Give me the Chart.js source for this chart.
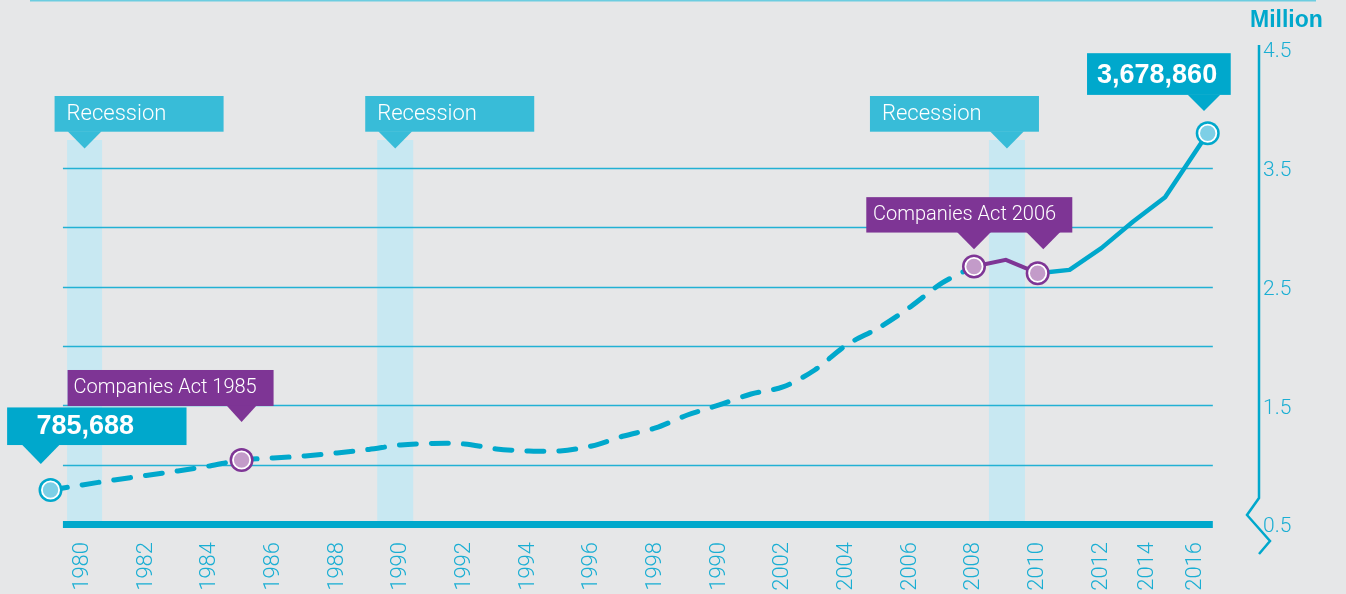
<!DOCTYPE html>
<html>
<head>
<meta charset="utf-8">
<script src="https://cdn.jsdelivr.net/npm/chart.js@4/dist/chart.umd.min.js"></script>
<style>
  html, body { margin: 0; padding: 0; background: #e6e7e8; }
  canvas { display: block; }
</style>
</head>
<body>
<canvas id="companiesChart" width="1346" height="594"></canvas>
<script>
// companies on the register, millions
const trendYears = [1979, 1980, 1981, 1982, 1983, 1984, 1985, 1986, 1987, 1988, 1989, 1990, 1991, 1992, 1993, 1994, 1995, 1996, 1997, 1998, 1999, 2000, 2001, 2002, 2003, 2004, 2005, 2006, 2007, 2008];
const trendValues = [0.786, 0.829, 0.871, 0.909, 0.947, 0.989, 1.039, 1.056, 1.073, 1.098, 1.128, 1.166, 1.178, 1.174, 1.132, 1.115, 1.115, 1.157, 1.241, 1.309, 1.418, 1.503, 1.595, 1.654, 1.797, 2.008, 2.151, 2.328, 2.530, 2.668];
const actYears = [2008, 2009, 2010];
const actValues = [2.668, 2.724, 2.612];
const recentYears = [2010, 2011, 2012, 2013, 2014, 2015.34];
const recentValues = [2.612, 2.640, 2.823, 3.047, 3.252, 3.791];

const recessionStart = [1979.52, 1989.26, 2008.47];
const recessionEnd = [1980.62, 1990.39, 2009.6];

// where the year labels sit in the picture (the last two are squeezed)
const yearTicks = [1980, 1982, 1984, 1986, 1988, 1990, 1992, 1994, 1996, 1998, 2000, 2002, 2004, 2006, 2008, 2010, 2012, 2013.44, 2014.95];
const yearLabels = ['1980', '1982', '1984', '1986', '1988', '1990', '1992', '1994', '1996', '1998', '1990', '2002', '2004', '2006', '2008', '2010', '2012', '2014', '2016'];
const valueTicks = [0.5, 1.5, 2.5, 3.5, 4.5];
const valueLabels = ['0.5', '1.5', '2.5', '3.5', '4.5'];
const gridValues = [1, 1.5, 2, 2.5, 3, 3.5];

const firstLabel = '785,688';
const lastLabel = '3,678,860';
const act1985 = 'Companies Act 1985';
const act2006 = 'Companies Act 2006';
const recessionText = 'Recession';

const CYAN = '#00a8cc';
const CYAN_BOX = '#38bcd8';
const BAND = '#c8e8f2';
const GRID = '#22b1d4';
const PURPLE = '#7e3595';
const FONT = 'Roboto, "Open Sans", sans-serif';
const BOLD = 'bold 27px "Liberation Sans", Arial, sans-serif';

// where each recession flag sits relative to its band centre
const flagShift = [-30, -30, -137];

const pts = (xs, ys) => xs.map((x, i) => ({ x: x, y: ys[i] }));
const at = (xs, ys, i) => ({ x: xs[i], y: ys[i] });

const cyanMarks = [
    at(trendYears, trendValues, 0),
    at(recentYears, recentValues, recentYears.length - 1)
];
const purpleMarks = [
    at(trendYears, trendValues, trendYears.indexOf(1985)),
    at(actYears, actValues, 0),
    at(actYears, actValues, actYears.length - 1)
];

function callout(ctx, x0, y0, x1, y1, tips, tipY, half, color) {
    ctx.fillStyle = color;
    ctx.fillRect(x0, y0, x1 - x0, y1 - y0);
    tips.forEach(tx => {
        ctx.beginPath();
        ctx.moveTo(tx - half, y1 - 0.5);
        ctx.lineTo(tx + half, y1 - 0.5);
        ctx.lineTo(tx, tipY);
        ctx.closePath();
        ctx.fill();
    });
}

function text(ctx, str, x, y, font) {
    ctx.fillStyle = '#ffffff';
    ctx.font = font;
    ctx.textAlign = 'left';
    ctx.textBaseline = 'alphabetic';
    ctx.fillText(str, x, y);
}

const decor = {
    id: 'decor',
    beforeDraw(chart) {
        const ctx = chart.ctx;
        ctx.save();
        ctx.fillStyle = '#e6e7e8';
        ctx.fillRect(0, 0, chart.width, chart.height);
        ctx.restore();
    },
    beforeDatasetsDraw(chart) {
        const { ctx, chartArea, scales: { x, y } } = chart;
        const bottom = chartArea.bottom;
        ctx.save();

        // recession bands
        ctx.fillStyle = BAND;
        recessionStart.forEach((s, i) => {
            const a = x.getPixelForValue(s);
            const b = x.getPixelForValue(recessionEnd[i]);
            ctx.fillRect(a, 140, b - a, bottom - 140);
        });

        // grid lines, shorter than the chart area
        const gx0 = x.getPixelForValue(1979.39);
        const gx1 = x.getPixelForValue(2015.5);
        ctx.strokeStyle = GRID;
        ctx.lineWidth = 1.3;
        gridValues.forEach(v => {
            const py = Math.round(y.getPixelForValue(v)) + 0.5;
            ctx.beginPath();
            ctx.moveTo(gx0, py);
            ctx.lineTo(gx1, py);
            ctx.stroke();
        });

        // thick base line
        ctx.strokeStyle = CYAN;
        ctx.lineWidth = 7;
        ctx.beginPath();
        ctx.moveTo(gx0, bottom + 0.5);
        ctx.lineTo(gx1, bottom + 0.5);
        ctx.stroke();

        // top rule
        ctx.strokeStyle = '#6ccde0';
        ctx.lineWidth = 2;
        ctx.beginPath();
        ctx.moveTo(30, 0.5);
        ctx.lineTo(1316, 0.5);
        ctx.stroke();

        // right axis with break mark
        const ax = chartArea.right;
        ctx.strokeStyle = CYAN;
        ctx.lineWidth = 2.5;
        ctx.beginPath();
        ctx.moveTo(ax, chartArea.top - 4);
        ctx.lineTo(ax, bottom - 26);
        ctx.lineTo(ax - 12, bottom - 9);
        ctx.lineTo(ax + 11, bottom + 17);
        ctx.lineTo(ax, bottom + 30);
        ctx.stroke();

        // unit
        ctx.fillStyle = CYAN;
        ctx.font = 'bold 23px "Liberation Sans", Arial, sans-serif';
        ctx.textAlign = 'left';
        ctx.fillText('Million', 1250, 27);
        ctx.restore();
    },
    afterDatasetsDraw(chart) {
        const { ctx, scales: { x, y } } = chart;
        ctx.save();

        // recession flags
        recessionStart.forEach((s, i) => {
            const c = (x.getPixelForValue(s) + x.getPixelForValue(recessionEnd[i])) / 2;
            const left = c + flagShift[i];
            callout(ctx, left, 96, left + 169, 131.7, [c], 148.5, 17, CYAN_BOX);
            text(ctx, recessionText, left + 12, 120, '300 22px ' + FONT);
        });

        // first value
        const p0x = x.getPixelForValue(cyanMarks[0].x), p0y = y.getPixelForValue(cyanMarks[0].y);
        callout(ctx, p0x - 43.4, p0y - 82.6, p0x + 136, p0y - 45, [p0x - 9.7], p0y - 26, 19, CYAN);
        text(ctx, firstLabel, p0x - 14, p0y - 56, BOLD);

        // last value
        const p1x = x.getPixelForValue(cyanMarks[1].x), p1y = y.getPixelForValue(cyanMarks[1].y);
        callout(ctx, p1x - 120.7, p1y - 80, p1x + 23, p1y - 38.3, [p1x - 3.7], p1y - 22.3, 16.5, CYAN);
        text(ctx, lastLabel, p1x - 110.7, p1y - 50.6, BOLD);

        // Companies Act 1985
        const a0x = x.getPixelForValue(purpleMarks[0].x), a0y = y.getPixelForValue(purpleMarks[0].y);
        callout(ctx, a0x - 174, a0y - 90, a0x + 32, a0y - 54, [a0x], a0y - 38, 15, PURPLE);
        text(ctx, act1985, a0x - 168, a0y - 67, '300 20px ' + FONT);

        // Companies Act 2006
        const a1x = x.getPixelForValue(purpleMarks[1].x), a1y = y.getPixelForValue(purpleMarks[1].y);
        const a2x = x.getPixelForValue(purpleMarks[2].x);
        callout(ctx, a1x - 107.7, a1y - 69.4, a1x + 98.3, a1y - 34, [a1x, a2x + 5.6], a1y - 17.4, 17, PURPLE);
        text(ctx, act2006, a1x - 101, a1y - 47, '300 20px ' + FONT);

        ctx.restore();
    }
};

new Chart(document.getElementById('companiesChart'), {
    type: 'line',
    data: {
        datasets: [
            {
                data: cyanMarks, showLine: false, order: 0,
                pointRadius: 8.6, pointBackgroundColor: '#7dcfe6',
                pointBorderColor: '#ffffff', pointBorderWidth: 1.8
            },
            {
                data: purpleMarks, showLine: false, order: 0,
                pointRadius: 8.6, pointBackgroundColor: '#c39bc9',
                pointBorderColor: '#ffffff', pointBorderWidth: 1.8
            },
            {
                data: cyanMarks, showLine: false, order: 1,
                pointRadius: 12, pointBackgroundColor: CYAN, pointBorderWidth: 0
            },
            {
                data: purpleMarks, showLine: false, order: 1,
                pointRadius: 12, pointBackgroundColor: PURPLE, pointBorderWidth: 0
            },
            {
                data: pts(trendYears, trendValues), order: 2,
                borderColor: CYAN, borderWidth: 5, borderDash: [17, 15],
                borderCapStyle: 'round', tension: 0.3, pointRadius: 0
            },
            {
                data: pts(actYears, actValues), order: 2,
                borderColor: PURPLE, borderWidth: 4, tension: 0, pointRadius: 0
            },
            {
                data: pts(recentYears, recentValues), order: 2,
                borderColor: CYAN, borderWidth: 4.5, tension: 0, pointRadius: 0,
                borderJoinStyle: 'round'
            }
        ]
    },
    options: {
        responsive: false,
        animation: false,
        events: [],
        layout: { padding: { left: 33, top: 49, right: 0, bottom: 0 } },
        plugins: {
            legend: { display: false },
            tooltip: { enabled: false }
        },
        scales: {
            x: {
                type: 'linear',
                min: 1978.45,
                max: 2016.95,
                grid: { display: false, drawTicks: false },
                border: { display: false },
                afterBuildTicks: scale => { scale.ticks = yearTicks.map(v => ({ value: v })); },
                afterFit: scale => { scale.height = 70; },
                ticks: {
                    autoSkip: false,
                    minRotation: 90,
                    maxRotation: 90,
                    padding: 18,
                    color: '#1aaed3',
                    font: { family: FONT, size: 22, weight: '300' },
                    callback: (value, index) => yearLabels[index]
                }
            },
            y: {
                type: 'linear',
                position: 'right',
                min: 0.5,
                max: 4.5,
                grid: { display: false, drawTicks: false },
                border: { display: false },
                afterBuildTicks: scale => { scale.ticks = valueTicks.map(v => ({ value: v })); },
                afterFit: scale => { scale.width = 87; },
                ticks: {
                    padding: 4,
                    labelOffset: 3,
                    color: '#1aaed3',
                    font: { family: FONT, size: 21, weight: '300' },
                    callback: (value, index) => valueLabels[index]
                }
            }
        }
    },
    plugins: [decor]
});
</script>
</body>
</html>
